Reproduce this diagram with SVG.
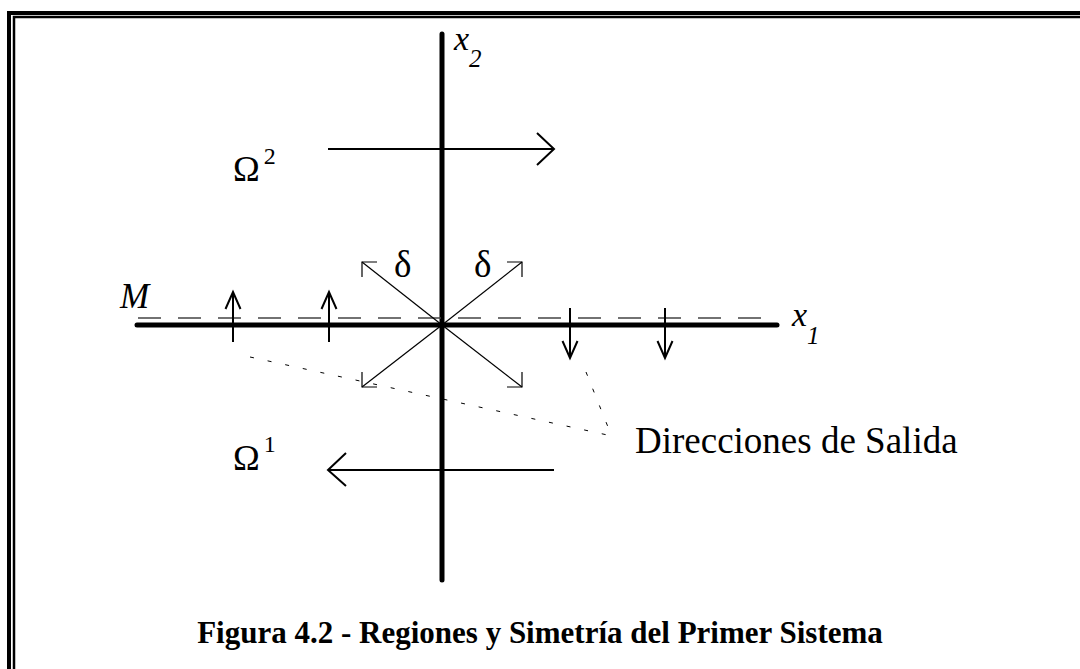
<svg xmlns="http://www.w3.org/2000/svg" width="1080" height="669" viewBox="0 0 1080 669">
<style>
.serif{font-family:"Liberation Serif","Times New Roman",serif;fill:#000}
.it{font-style:italic}
.thin{stroke:#000;stroke-width:1.2;fill:none}
.arr{stroke:#000;stroke-width:2;fill:none}
.axis{stroke:#000;stroke-width:5;fill:none;stroke-linecap:round}
.dot{stroke:#000;stroke-width:1;fill:none;stroke-dasharray:4 14}
</style>
<rect width="1080" height="669" fill="#fff"/>
<g id="frame">
<path d="M9,669 V13 H1080" stroke="#000" stroke-width="4" fill="none"/>
<path d="M14,669 V17 H1080" stroke="#000" stroke-width="2.5" fill="none"/>
</g>
<g id="axes">
<line class="axis" x1="442" y1="34" x2="442" y2="580" stroke-linecap="butt"/>
<line class="axis" x1="137" y1="325" x2="777" y2="325"/>
<line x1="138" y1="318" x2="778" y2="318" stroke="#444" stroke-width="1.5" stroke-dasharray="23 17"/>
</g>
<g id="connectors">
<g id="delta-arrows" class="thin">
<line x1="442" y1="325" x2="362" y2="262"/><path d="M377,262 H362 V277"/>
<line x1="442" y1="325" x2="522" y2="262"/><path d="M507,262 H522 V277"/>
<line x1="442" y1="325" x2="362" y2="387"/><path d="M377,387 H362 V372"/>
<line x1="442" y1="325" x2="522" y2="387"/><path d="M507,387 H522 V372"/>
</g>
<g id="exit-arrows" class="arr">
<line x1="233" y1="342" x2="233" y2="292"/><path d="M225.5,309 L233,292 L240.5,309"/>
<line x1="329" y1="342" x2="329" y2="292"/><path d="M321.5,309 L329,292 L336.5,309"/>
<line x1="570" y1="308" x2="570" y2="358"/><path d="M562.5,341 L570,358 L577.5,341"/>
<line x1="665" y1="308" x2="665" y2="358"/><path d="M657.5,341 L665,358 L672.5,341"/>
</g>
<g id="flow-arrows" class="arr">
<line x1="328" y1="149" x2="554" y2="149"/><path d="M537,133 L554,149 L537,165"/>
<line x1="554" y1="470" x2="328" y2="470"/><path d="M346,453 L328,470 L346,486"/>
</g>
<g id="leaders" class="dot">
<line x1="250" y1="357" x2="612" y2="436"/>
<line x1="586" y1="372" x2="612" y2="437"/>
</g>
</g>
<g id="labels">
<text class="serif" x="394" y="277" font-size="37">δ</text>
<text class="serif" x="474" y="277" font-size="37">δ</text>
<text class="serif" x="233" y="181" font-size="36">Ω<tspan dx="4" dy="-17" font-size="24">2</tspan></text>
<text class="serif" x="233" y="470" font-size="36">Ω<tspan dx="4" dy="-18" font-size="24">1</tspan></text>
<text class="serif it" x="454" y="50" font-size="34">x<tspan dy="17" font-size="25">2</tspan></text>
<text class="serif it" x="792" y="326" font-size="34">x<tspan dy="18" font-size="25">1</tspan></text>
<text class="serif it" x="120" y="308" font-size="35">M</text>
<text class="serif" x="635" y="453" font-size="37">Direcciones de Salida</text>
<text class="serif" x="540" y="643" font-size="31" font-weight="bold" text-anchor="middle">Figura 4.2 - Regiones y Simetría del Primer Sistema</text>
</g>
</svg>
